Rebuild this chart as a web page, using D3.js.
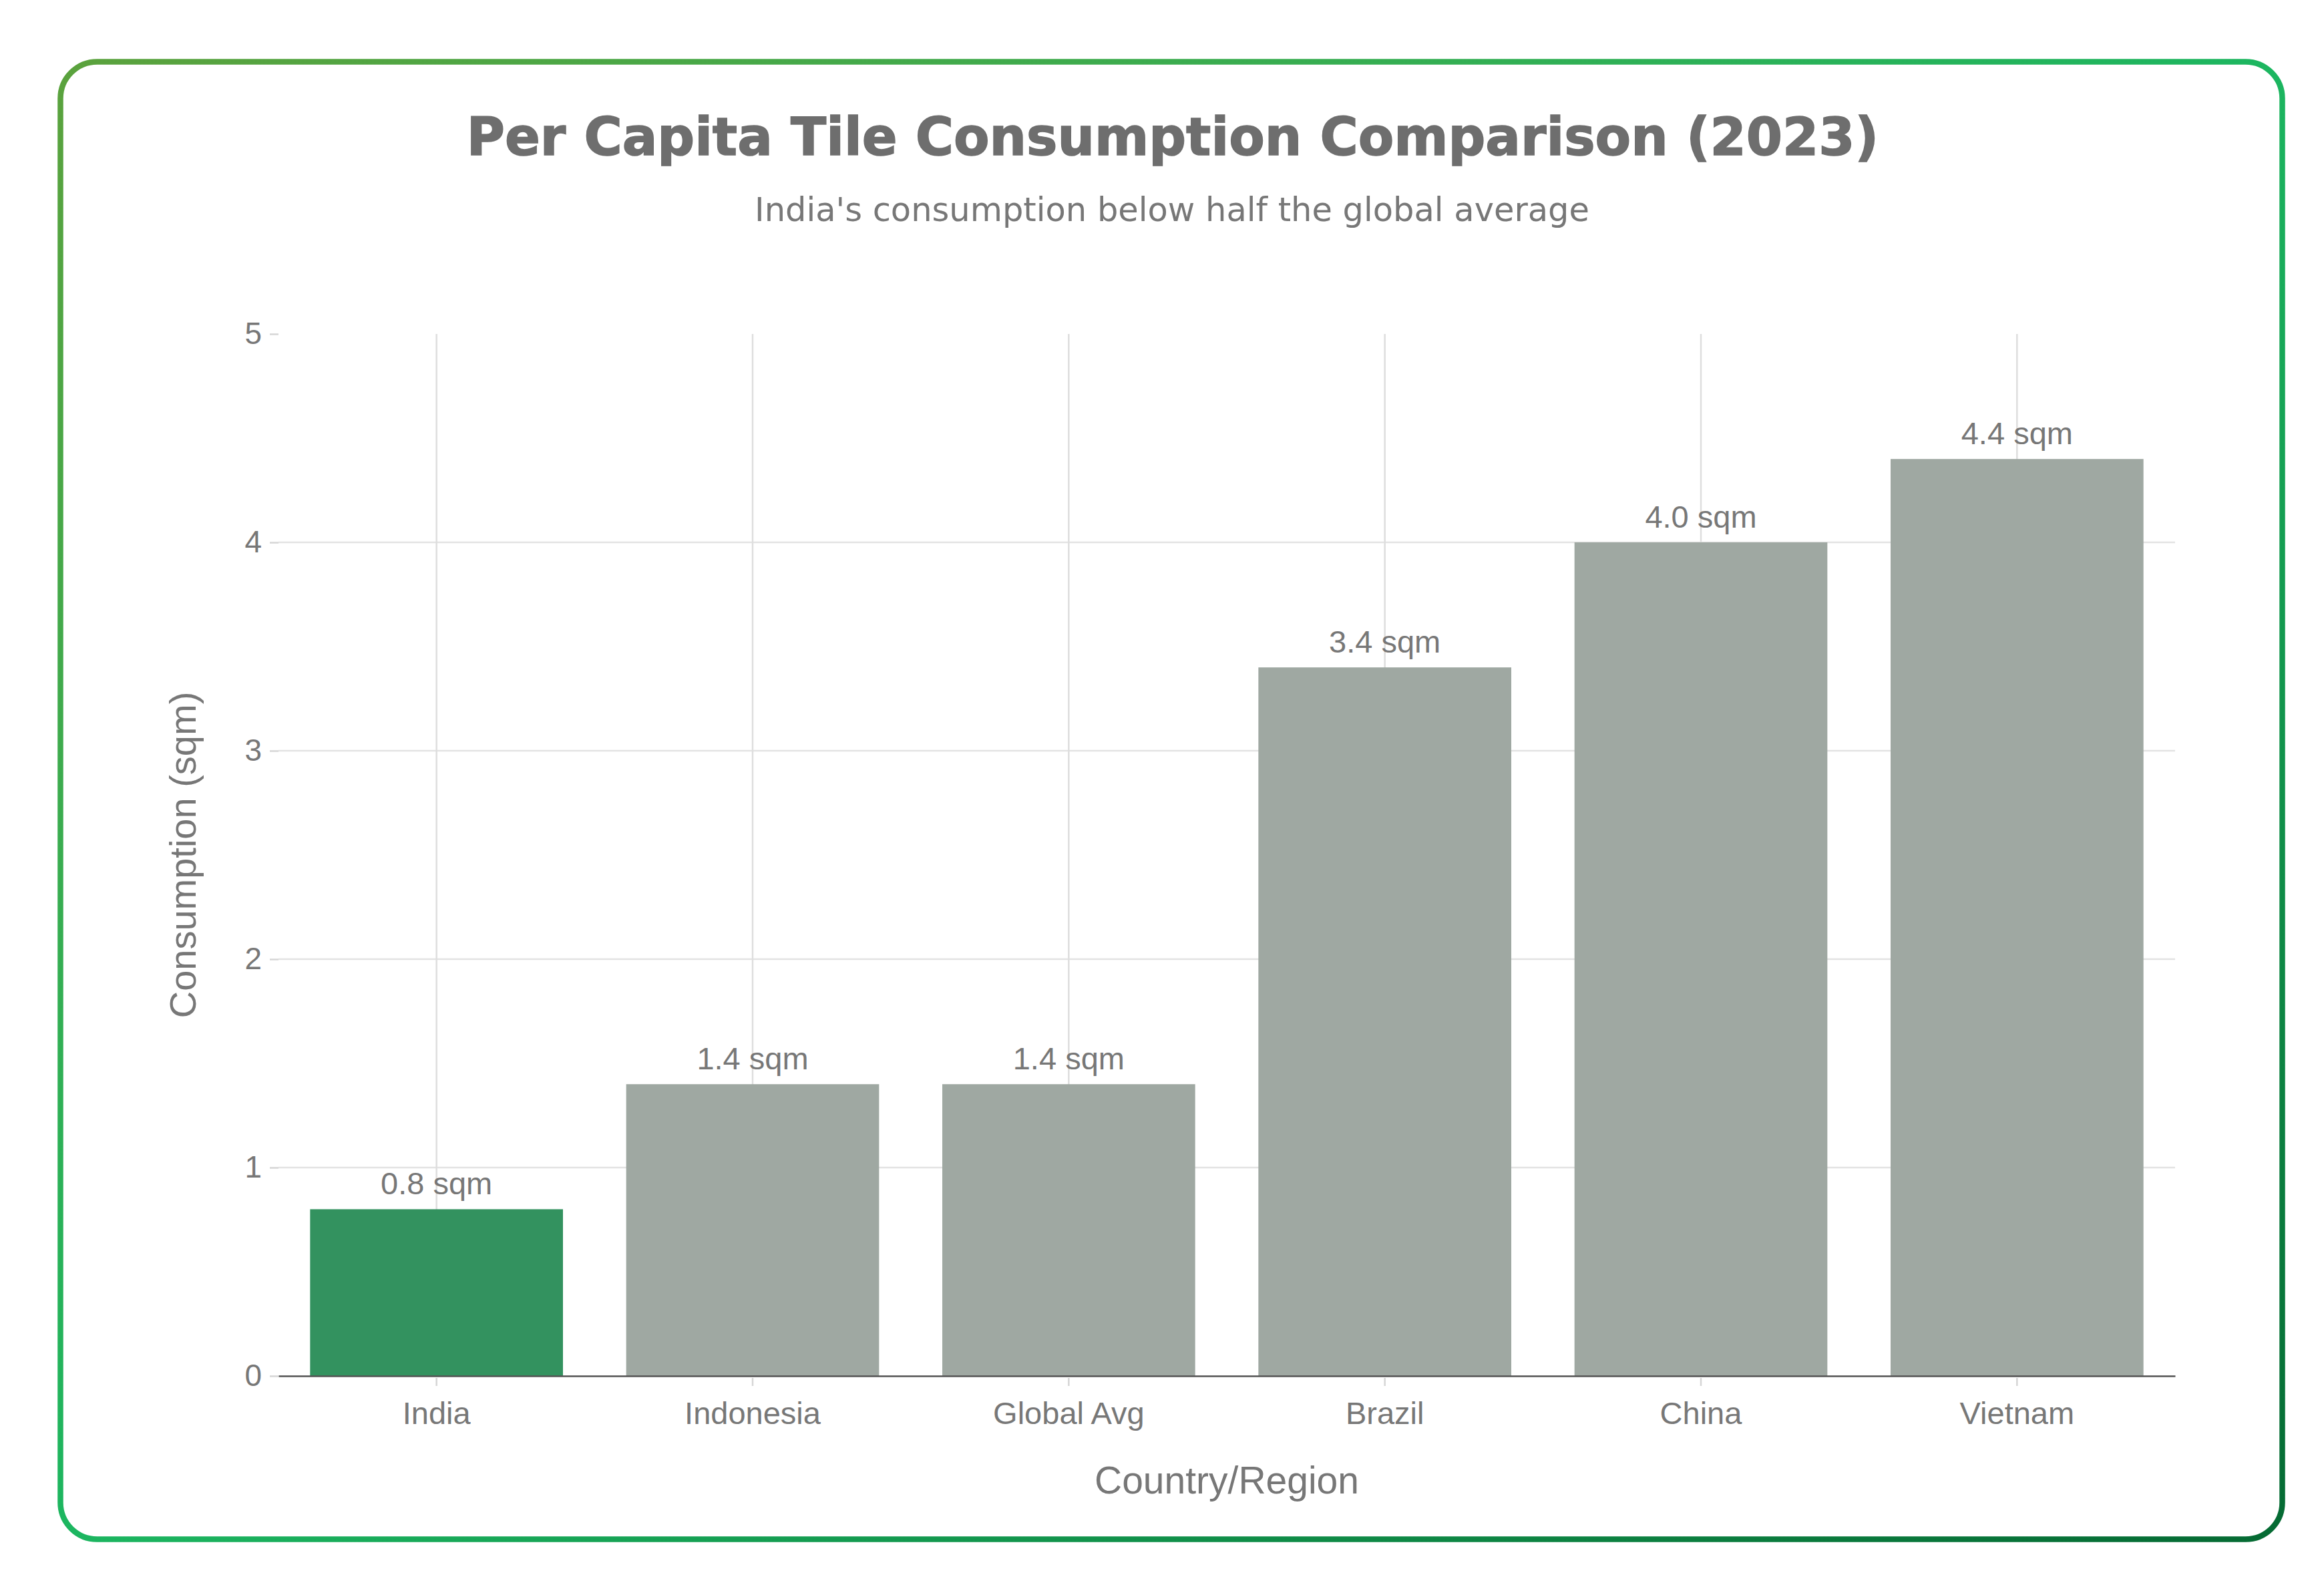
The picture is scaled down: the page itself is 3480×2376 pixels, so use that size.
<!DOCTYPE html>
<html>
<head>
<meta charset="utf-8">
<script src="https://cdn.jsdelivr.net/npm/d3@7"></script>
<style>
  html, body { margin: 0; padding: 0; background: #fff; }
  svg { display: block; }
</style>
</head>
<body>
<svg id="chart" width="3480" height="2376"></svg>
<script>
// data
const categories = ["India", "Indonesia", "Global Avg", "Brazil", "China", "Vietnam"];
const values = [0.8, 1.4, 1.4, 3.4, 4.0, 4.4];
const yTicks = [0, 1, 2, 3, 4, 5];
const highlight = "India";

const W = 3480, H = 2376;
const plot = {left: 417, right: 3257, top: 500, bottom: 2060};
const sans = "Liberation Sans, Arial, sans-serif";

const svg = d3.select("#chart");

// card with gradient border
const defs = svg.append("defs");
const grad = defs.append("linearGradient")
    .attr("id", "border")
    .attr("x1", 0).attr("y1", 0).attr("x2", 1).attr("y2", 1);
grad.append("stop").attr("offset", "0%").attr("stop-color", "#5ba23d");
grad.append("stop").attr("offset", "50%").attr("stop-color", "#1cb660");
grad.append("stop").attr("offset", "100%").attr("stop-color", "#056a33");

svg.append("rect")
    .attr("x", 90.5).attr("y", 92.5)
    .attr("width", 3327).attr("height", 2212)
    .attr("rx", 55).attr("ry", 55)
    .attr("fill", "#fff")
    .attr("stroke", "url(#border)")
    .attr("stroke-width", 8.5);

const x = d3.scaleBand()
    .domain(categories)
    .range([plot.left, plot.right])
    .paddingInner(0.2)
    .paddingOuter(0.1);

const y = d3.scaleLinear()
    .domain([0, 5])
    .range([plot.bottom, plot.top]);

// horizontal grid (no line at the top value)
svg.append("g")
    .selectAll("line")
    .data(yTicks.filter(t => t > 0 && t < 5))
    .enter().append("line")
    .attr("x1", plot.left).attr("x2", plot.right)
    .attr("y1", d => y(d)).attr("y2", d => y(d))
    .attr("stroke", "#e3e3e3")
    .attr("stroke-width", 2.5);

// vertical grid at category centres
svg.append("g")
    .selectAll("line")
    .data(categories)
    .enter().append("line")
    .attr("x1", d => x(d) + x.bandwidth() / 2)
    .attr("x2", d => x(d) + x.bandwidth() / 2)
    .attr("y1", plot.top).attr("y2", plot.bottom)
    .attr("stroke", "#dedede")
    .attr("stroke-width", 2.5);

// bars
const rows = categories.map((c, i) => ({name: c, value: values[i]}));

svg.append("g")
    .selectAll("rect")
    .data(rows)
    .enter().append("rect")
    .attr("x", d => x(d.name))
    .attr("width", x.bandwidth())
    .attr("y", d => y(d.value))
    .attr("height", d => y(0) - y(d.value))
    .attr("fill", d => d.name == highlight ? "#33925f" : "#9fa8a2");

// value labels
svg.append("g")
    .selectAll("text")
    .data(rows)
    .enter().append("text")
    .attr("x", d => x(d.name) + x.bandwidth() / 2)
    .attr("y", d => y(d.value) - 22)
    .attr("text-anchor", "middle")
    .attr("font-family", sans)
    .attr("font-size", 47)
    .attr("fill", "#777")
    .text(d => d.value.toFixed(1) + " sqm");

// y axis
const yAxis = svg.append("g")
    .attr("transform", "translate(" + plot.left + ",0)")
    .call(d3.axisLeft(y).tickValues(yTicks).tickSize(13).tickPadding(12).tickFormat(d3.format("d")));
yAxis.select(".domain").remove();
yAxis.selectAll(".tick line").attr("stroke", "#d6d6d6").attr("stroke-width", 2.5);
yAxis.selectAll(".tick text")
    .attr("font-family", sans)
    .attr("font-size", 46)
    .attr("fill", "#777");

// x axis
const xAxis = svg.append("g")
    .attr("transform", "translate(0," + plot.bottom + ")")
    .call(d3.axisBottom(x).tickSize(15).tickPadding(24).tickSizeOuter(0));
xAxis.select(".domain").attr("stroke", "#555").attr("stroke-width", 2.5);
xAxis.selectAll(".tick line").attr("stroke", "#d6d6d6").attr("stroke-width", 2.5).attr("y1", 3);
xAxis.selectAll(".tick text")
    .attr("font-family", sans)
    .attr("font-size", 47)
    .attr("fill", "#777");

// axis titles
svg.append("text")
    .attr("x", (plot.left + plot.right) / 2)
    .attr("y", 2236)
    .attr("text-anchor", "middle")
    .attr("font-family", sans)
    .attr("font-size", 57)
    .attr("fill", "#777")
    .text("Country/Region");

svg.append("text")
    .attr("transform", "translate(293," + ((plot.top + plot.bottom) / 2) + ") rotate(-90)")
    .attr("text-anchor", "middle")
    .attr("font-family", sans)
    .attr("font-size", 56)
    .attr("fill", "#777")
    .text("Consumption (sqm)");

// title and subtitle
svg.append("text")
    .attr("x", 1756).attr("y", 232)
    .attr("text-anchor", "middle")
    .attr("font-family", "DejaVu Sans, Verdana, sans-serif")
    .attr("font-weight", "bold")
    .attr("font-size", 78)
    .attr("fill", "#6e6e6e")
    .attr("stroke", "#6e6e6e")
    .attr("stroke-width", 1.5)
    .text("Per Capita Tile Consumption Comparison (2023)");

svg.append("text")
    .attr("x", 1755).attr("y", 331)
    .attr("text-anchor", "middle")
    .attr("font-family", "DejaVu Sans, Verdana, sans-serif")
    .attr("font-size", 49.5)
    .attr("fill", "#777")
    .text("India's consumption below half the global average");
</script>
</body>
</html>
